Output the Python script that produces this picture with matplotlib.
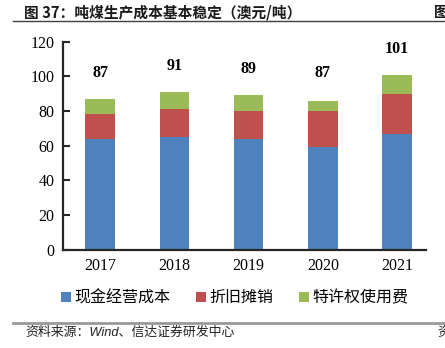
import matplotlib
matplotlib.use("Agg")
import matplotlib.pyplot as plt
from matplotlib.patches import Patch
from matplotlib.lines import Line2D
import numpy as np

# data (AUD/t)
years = ["2017", "2018", "2019", "2020", "2021"]
cash_cost = [64, 65, 64, 59, 67]
depreciation = [14, 16, 16, 21, 23]
royalty = [9, 10, 9, 6, 11]
totals = [87, 91, 89, 87, 101]
series_names = ["现金经营成本", "折旧摊销", "特许权使用费"]
colors = ["#4F81BD", "#C0504D", "#9BBB59"]

cjk = ["Noto Sans CJK SC", "DejaVu Sans"]
serif = ["Liberation Serif", "DejaVu Serif"]

fig = plt.figure(figsize=(4.45, 3.48), dpi=100)
ax = fig.add_axes([63 / 445, 1 - 249.5 / 348, (426 - 63) / 445, (249.5 - 41.8) / 348])

x = np.arange(len(years))
w = 0.40
bottom = np.zeros(len(years))
for vals, c in zip([cash_cost, depreciation, royalty], colors):
    ax.bar(x, vals, w, bottom=bottom, color=c, edgecolor="none", zorder=2)
    bottom += np.array(vals)

for xi, t in zip(x, totals):
    ax.text(xi, t + 15, str(t), ha="center", va="center", fontsize=11.5,
            fontweight="bold", family=serif)

ax.set_ylim(0, 120)
ax.set_xlim(-0.5, 4.39)
ax.set_yticks(range(0, 121, 20))
ax.set_xticks(x)
ax.set_xticklabels(years)
for lab in ax.get_xticklabels() + ax.get_yticklabels():
    lab.set_family(serif)
    lab.set_fontsize(11.5)
ax.tick_params(axis="y", direction="in", length=5, width=1.5, color="#262626", pad=6)
ax.tick_params(axis="x", length=0, pad=6)
for s in ["top", "right"]:
    ax.spines[s].set_visible(False)
for s in ["left", "bottom"]:
    ax.spines[s].set_linewidth(1.6)
    ax.spines[s].set_color("#262626")

handles = [Patch(facecolor=c, edgecolor="none") for c in colors]
fig.legend(handles, series_names, loc="center", bbox_to_anchor=(0.528, 0.144),
           ncol=3, frameon=False, handlelength=0.6, handleheight=0.6,
           handletextpad=0.25, columnspacing=1.6,
           prop={"family": cjk, "size": 11.5})

# title and rules
fig.text(24 / 445, 1 - 12 / 348, "图 37：吨煤生产成本基本稳定（澳元/吨）", ha="left", va="center",
         fontsize=10.6, fontweight="bold", family=cjk, color="#1a1a1a")
fig.text(434 / 445, 1 - 12 / 348, "图", ha="left", va="center",
         fontsize=10.6, fontweight="bold", family=cjk, color="#1a1a1a")
fig.add_artist(Line2D([13 / 445, 1], [1 - 20.7 / 348] * 2, color="#404040", lw=1))
fig.add_artist(Line2D([13 / 445, 1], [1 - 323.3 / 348] * 2, color="#999999", lw=2))
fig.text(25 / 445, 1 - 333 / 348, "资料来源：Wind、信达证券研发中心", ha="left", va="center",
         fontsize=9.3, style="italic", family=["Liberation Sans", "Noto Sans CJK SC"],
         color="#222222")
fig.text(437 / 445, 1 - 333 / 348, "资", ha="left", va="center",
         fontsize=9.3, style="italic", family=cjk, color="#222222")

fig.savefig("out.png", dpi=100)
